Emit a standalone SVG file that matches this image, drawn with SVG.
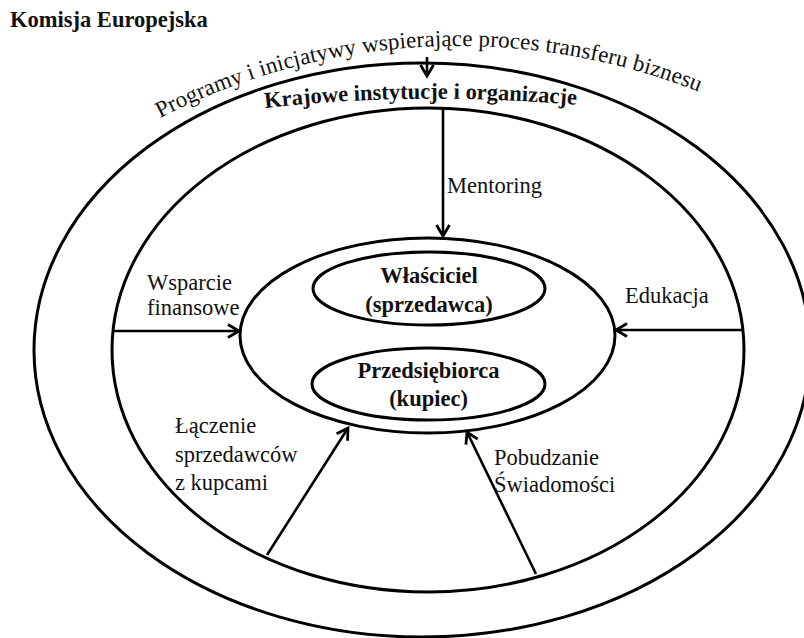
<svg xmlns="http://www.w3.org/2000/svg" width="804" height="638" viewBox="0 0 804 638">
  <style>
    .ring { fill: none; stroke: #000; stroke-width: 3; }
    .conn { fill: none; stroke: #000; stroke-width: 2.6; marker-end: url(#arrow); }
    .t { font-family: "Liberation Serif", "Times New Roman", serif; font-size: 22.5px; fill: #111; }
    .b { font-weight: bold; }
    .c { text-anchor: middle; }
  </style>
  <defs>
    <marker id="arrow" markerUnits="userSpaceOnUse" markerWidth="20" markerHeight="20" viewBox="-14 -10 20 20" refX="0" refY="0" orient="auto">
      <path d="M -11 -6.5 L 0 0 L -11 6.5" fill="none" stroke="#000" stroke-width="2.8" stroke-linejoin="miter"/>
    </marker>
    <path id="archPath" d="M 160 118 A 654 654 0 0 1 730 105"/>
    <path id="nationalPath" d="M 265 108 Q 425 90 600 107"/>
  </defs>

  <rect width="804" height="638" fill="#fff"/>

  <!-- title -->
  <text class="t b" x="10" y="27">Komisja Europejska</text>

  <!-- outer ring: European Commission programmes -->
  <g id="outer">
    <ellipse class="ring" cx="422" cy="350" rx="388" ry="287"/>
    <text class="t" style="font-size:23px"><textPath href="#archPath" textLength="556" lengthAdjust="spacing">Programy i inicjatywy wspierające proces transferu biznesu</textPath></text>
  </g>

  <!-- middle ring: national institutions -->
  <g id="national">
    <ellipse class="ring" cx="428" cy="350" rx="316" ry="242"/>
    <text class="t b"><textPath href="#nationalPath">Krajowe instytucje i organizacje</textPath></text>
  </g>

  <!-- inner core -->
  <g id="core">
    <ellipse class="ring" cx="427.5" cy="335.5" rx="187.5" ry="97.5"/>
  </g>

  <g id="owner">
    <ellipse class="ring" cx="429" cy="288.5" rx="116" ry="36.5"/>
    <text class="t b c" x="429" y="283">Właściciel</text>
    <text class="t b c" x="429" y="312">(sprzedawca)</text>
  </g>

  <g id="buyer">
    <ellipse class="ring" cx="428.5" cy="384" rx="116.5" ry="36"/>
    <text class="t b c" x="428.5" y="378">Przedsiębiorca</text>
    <text class="t b c" x="428.5" y="406">(kupiec)</text>
  </g>

  <!-- connectors -->
  <g id="connectors">
    <line class="conn" x1="427" y1="57" x2="427" y2="76"/>
    <line class="conn" x1="443" y1="109" x2="443" y2="236"/>
    <line class="conn" x1="113" y1="331" x2="239" y2="331"/>
    <line class="conn" x1="744" y1="330" x2="616" y2="330"/>
    <line class="conn" x1="267" y1="555" x2="348" y2="428"/>
    <line class="conn" x1="536" y1="574" x2="467" y2="432"/>
  </g>

  <!-- connector labels -->
  <g id="labels">
    <text class="t" x="447" y="193">Mentoring</text>
    <text class="t" x="147" y="290">Wsparcie</text>
    <text class="t" x="147" y="315">finansowe</text>
    <text class="t" x="625" y="303">Edukacja</text>
    <text class="t" x="175" y="433">Łączenie</text>
    <text class="t" x="175" y="462">sprzedawców</text>
    <text class="t" x="175" y="490"> z kupcami</text>
    <text class="t" x="494" y="465">Pobudzanie</text>
    <text class="t" x="494" y="492">Świadomości</text>
  </g>
</svg>
